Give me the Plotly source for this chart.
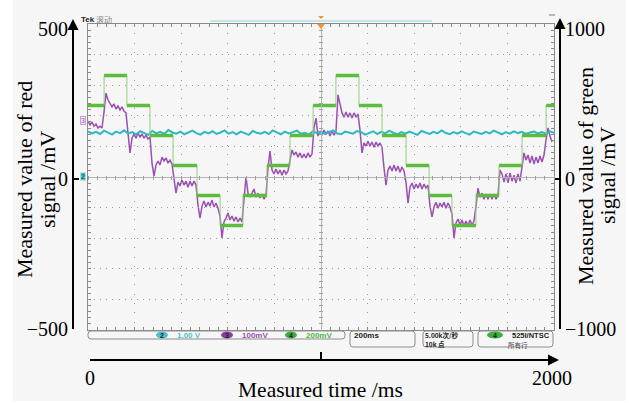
import plotly.graph_objects as go

# ---------------- data ----------------
RED_SAMPLE_MS = 2000 / 233          # one reading every 2 screen pixels
RED_MV = [
    192, 179, 189, 175, 182, 169, 175, 169,
    222, 285, 262, 249, 239, 249, 232, 242, 229, 239, 225, 219,
    155, 86, 135, 149, 135, 152, 139, 149, 135, 145, 132, 139,
    52, 9, 46, 59, 46, 72, 59, 69, 52, 62, 49,
    -4, -48, -11, -24, -4, -21, -8, -28, -8, -24, -8, -21,
    -88, -131, -91, -74, -94, -78, -91, -71, -94, -81, -98,
    -124, -197, -144, -131, -114, -137, -124, -141, -127, -144, -131, -144,
    -58, 6, -48, -61, -48, -34, -61, -48, -64, -51, -68, -54,
    36, 92, 29, 16, 32, 16, 29, 12, 29, 16, 26,
    56, 96, 79, 89, 72, 86, 69, 82, 69, 86, 72, 82,
    169, 202, 142, 159, 145, 162, 149, 159, 142, 159, 145, 159,
    279, 249, 219, 205, 222, 205, 219, 202, 219, 205, 215,
    162, 86, 119, 109, 125, 109, 122, 105, 122, 109, 119, 105,
    36, -21, 29, 42, 26, 46, 26, 42, 22, 39, 26,
    -11, -81, -28, -14, -34, -18, -31, -14, -34, -18, -31, -21,
    -91, -127, -94, -78, -98, -81, -94, -78, -98, -81, -94,
    -118, -197, -147, -134, -154, -137, -157, -141, -157, -137, -154, -141,
    -91, -31, -61, -48, -68, -51, -68, -51, -68, -51, -68, -54,
    29, 16, -11, 16, -14, 19, -8, 12, -14, 16, -8,
    46, 86, 62, 79, 52, 76, 49, 72, 52, 76, 56, 79,
    129, 169, 142, 122,
]
RED_MS = [i * RED_SAMPLE_MS for i in range(len(RED_MV))]

CYAN_SAMPLE_MS = 2000 / 116
CYAN_MV = [
    158, 151, 156, 149, 160, 153, 147, 157, 152, 161, 150, 155, 148, 158, 153, 146, 159, 151, 156, 149,
    162, 154, 150, 157, 148, 155, 160, 152, 147, 156, 151, 158, 149, 154, 161, 150, 155, 148, 157, 152,
    146, 159, 153, 150, 156, 149, 161, 154, 148, 157, 151, 155, 160, 150, 153, 147, 158, 152, 156, 149,
    154, 161, 151, 148, 157, 153, 150, 159, 155, 147, 152, 158, 149, 156, 151, 160, 153, 148, 155, 150,
    157, 152, 146, 159, 154, 149, 156, 151, 161, 153, 148, 155, 150, 158, 152, 147, 157, 154, 149, 156,
    151, 160, 153, 148, 155, 150, 158, 152, 156, 149, 154, 157, 151, 155, 150, 158, 153,
]
CYAN_MS = [i * CYAN_SAMPLE_MS for i in range(len(CYAN_MV))]

GREEN_EDGES_MS = [0, 69, 167, 266, 365, 468, 567, 665, 768, 867, 966, 1064,
                  1163, 1262, 1365, 1464, 1562, 1665, 1764, 1863, 1966, 2000]
GREEN_LEVELS_MV = [490, 690, 490, 290, 90, -110, -310, -110, 90, 290, 490,
                   690, 490, 290, 90, -110, -310, -110, 90, 290, 490]

RED_TICKS = [-500, 0, 500]
RED_TICKTEXT = ["\u2212500", "0", "500"]
GREEN_TICKS = [-1000, 0, 1000]
GREEN_TICKTEXT = ["\u22121000", "0", "1000"]
TIME_TICKS = [0, 1000, 2000]
TIME_TICKTEXT = ["0", "", "2000"]

# ---------------- styling / geometry ----------------
W, H = 634, 403
ML, MR, MT, MB = 73, 74, 15, 43
PW, PH = W - ML - MR, H - MT - MB


def px(x):
    return (x - ML) / PW


def py(y):
    return (H - MB - y) / PH


PURPLE = "#9b50b2"
GREEN = "#5cbd3c"
GREEN_THIN = "#8fd27a"
CYAN = "#2db8c3"
SERIF = "Liberation Serif, Times New Roman, serif"
SANS = "Liberation Sans, Arial, Noto Sans CJK SC, sans-serif"
CJK = "Noto Sans CJK SC, sans-serif"
GRIDC = "#9a9a9a"
FRAMEC = "#8a8a8a"

fig = go.Figure()

# green: thin verticals + thick plateaus
gx, gy = [], []
for i, lv in enumerate(GREEN_LEVELS_MV):
    gx += [GREEN_EDGES_MS[i], GREEN_EDGES_MS[i + 1], None]
    gy += [lv, lv, None]
fig.add_trace(go.Scatter(x=GREEN_EDGES_MS, y=GREEN_LEVELS_MV + [GREEN_LEVELS_MV[-1]],
                         mode="lines", line=dict(color=GREEN_THIN, width=1, shape="hv"),
                         xaxis="x", yaxis="y2", hoverinfo="skip", showlegend=False))
fig.add_trace(go.Scatter(x=gx, y=gy, mode="lines", line=dict(color=GREEN, width=3.5),
                         xaxis="x", yaxis="y2", showlegend=False))
fig.add_trace(go.Scatter(x=RED_MS, y=RED_MV, mode="lines", line=dict(color=PURPLE, width=1.5),
                         xaxis="x", yaxis="y", showlegend=False))
fig.add_trace(go.Scatter(x=CYAN_MS, y=CYAN_MV, mode="lines", line=dict(color=CYAN, width=2),
                         xaxis="x", yaxis="y", showlegend=False))
# dummies so every decorative axis is drawn
for xa, ya in [("x2", "y"), ("x3", "y3"), ("x4", "y3"), ("x3", "y4")]:
    fig.add_trace(go.Scatter(x=[None], y=[None], xaxis=xa, yaxis=ya, showlegend=False,
                             hoverinfo="skip"))

tickfont = dict(family=SERIF, size=20, color="black")
scope_x = [px(88), px(554)]
scope_y = [py(330), py(24)]

fig.update_layout(
    width=W, height=H, margin=dict(l=ML, r=MR, t=MT, b=MB, pad=0),
    paper_bgcolor="white", plot_bgcolor="rgba(0,0,0,0)", showlegend=False,
    xaxis=dict(domain=scope_x, range=[0, 2000], visible=False, anchor="y"),
    yaxis=dict(domain=[py(329), py(28.5)], range=[-500, 500], anchor="free", position=0,
               showline=True, linecolor="black", linewidth=2, ticks="inside", ticklen=5,
               tickwidth=1.5, tickcolor="black", tickvals=RED_TICKS, ticktext=RED_TICKTEXT,
               tickfont=tickfont, showgrid=False, zeroline=False, automargin=False),
    yaxis2=dict(domain=[py(329), py(29)], range=[-1000, 1000], anchor="free", position=1,
                side="right", showline=True, linecolor="black", linewidth=2, ticks="inside",
                ticklen=5, tickwidth=1.5, tickcolor="black", tickvals=GREEN_TICKS,
                ticktext=GREEN_TICKTEXT, tickfont=tickfont, showgrid=False, zeroline=False,
                automargin=False),
    xaxis2=dict(domain=[px(90), px(552)], range=[0, 2000], anchor="free", position=0,
                showline=True, linecolor="black", linewidth=2, ticks="inside", ticklen=7,
                tickwidth=1.5, tickcolor="black", tickvals=TIME_TICKS, ticktext=TIME_TICKTEXT,
                tickfont=tickfont, showgrid=False, zeroline=False, automargin=False),
    xaxis3=dict(domain=scope_x, range=[-5, 5], anchor="y3", tick0=0, dtick=1,
                showgrid=True, gridcolor=GRIDC, griddash="1px,8.3px", gridwidth=1,
                zeroline=True, zerolinecolor="#b4b4b4", zerolinewidth=1,
                showline=True, mirror="ticks", linecolor=FRAMEC, linewidth=1,
                ticks="inside", ticklen=3, tickcolor=FRAMEC, showticklabels=False,
                minor=dict(dtick=0.2, ticks="inside", ticklen=3, tickcolor=FRAMEC, showgrid=False)),
    yaxis3=dict(domain=scope_y, range=[-5, 5], anchor="x3", tick0=0, dtick=1,
                showgrid=True, gridcolor=GRIDC, griddash="1px,5.1px", gridwidth=1,
                zeroline=True, zerolinecolor="#b4b4b4", zerolinewidth=1,
                showline=True, mirror="ticks", linecolor=FRAMEC, linewidth=1,
                ticks="inside", ticklen=3, tickcolor=FRAMEC, showticklabels=False,
                minor=dict(dtick=0.2, ticks="inside", ticklen=3, tickcolor=FRAMEC, showgrid=False)),
    xaxis4=dict(domain=scope_x, range=[-5, 5], anchor="free", position=py(175), dtick=0.2,
                ticks="outside", ticklen=4, tickcolor="#a0a0a0", showticklabels=False,
                showgrid=False, zeroline=False, showline=False),
    yaxis4=dict(domain=scope_y, range=[-5, 5], anchor="free", position=px(323), dtick=0.2,
                ticks="outside", ticklen=4, tickcolor="#a0a0a0", showticklabels=False,
                showgrid=False, zeroline=False, showline=False),
)

shapes = []
# light grey page
shapes.append(dict(type="rect", xref="paper", yref="paper", x0=px(13), x1=px(626),
                   y0=py(401), y1=py(0), fillcolor="#f6f6f6", line=dict(width=0), layer="below"))


def rrect(x0, y0, x1, y1, r):
    p = lambda x, y: f"{px(x):.5f},{py(y):.5f}"
    return (f"M{p(x0 + r, y0)} L{p(x1 - r, y0)} Q{p(x1, y0)} {p(x1, y0 + r)} "
            f"L{p(x1, y1 - r)} Q{p(x1, y1)} {p(x1 - r, y1)} L{p(x0 + r, y1)} "
            f"Q{p(x0, y1)} {p(x0, y1 - r)} L{p(x0, y0 + r)} Q{p(x0, y0)} {p(x0 + r, y0)} Z")


for (a, b, c, d) in [(88, 331, 345, 339), (350, 331, 415, 347), (423, 331, 473, 347), (478, 331, 553, 347)]:
    shapes.append(dict(type="path", xref="paper", yref="paper", path=rrect(a, b, c, d, 3),
                       line=dict(color="#8c8c8c", width=1), fillcolor="rgba(0,0,0,0)"))
for (cx, col, hw) in [(162, "#4cc3cc", 6), (227, "#8b3f9e", 6), (291, "#3fae3a", 6), (495, "#3fae3a", 8)]:
    shapes.append(dict(type="circle", xref="paper", yref="paper", x0=px(cx - hw), x1=px(cx + hw),
                       y0=py(338.5), y1=py(331.5), fillcolor=col, line=dict(width=0)))
# top status line and trigger markers
shapes.append(dict(type="line", xref="paper", yref="paper", x0=px(210), x1=px(432), y0=py(21), y1=py(21),
                   line=dict(color="#8fd5dc", width=1)))
shapes.append(dict(type="path", xref="paper", yref="paper", fillcolor="#f0962d", line=dict(width=0),
                   path=f"M{px(318)},{py(16)} L{px(324)},{py(16)} L{px(321)},{py(19)} Z"))
shapes.append(dict(type="path", xref="paper", yref="paper", fillcolor="#f0962d", line=dict(width=0),
                   path=f"M{px(317)},{py(24)} L{px(325)},{py(24)} L{px(321)},{py(29)} Z"))
shapes.append(dict(type="line", xref="paper", yref="paper", x0=px(549), x1=px(555), y0=py(15), y1=py(15),
                   line=dict(color="#777", width=1)))
fig.update_layout(shapes=shapes)

ann = []


def text(x, y, s, size, color, xanchor="left", family=SANS, **kw):
    ann.append(dict(x=px(x), y=py(y), xref="paper", yref="paper", text=s, showarrow=False,
                    xanchor=xanchor, yanchor="middle", font=dict(family=family, size=size, color=color), **kw))


# axis titles
text(320, 390, "Measured time /ms", 21.5, "black", "center", SERIF)
text(24, 180, "Measured value of red", 22, "black", "center", SERIF, textangle=-90)
text(47, 180, "signal /mV", 22, "black", "center", SERIF, textangle=-90)
text(585, 176, "Measured value of green", 22, "black", "center", SERIF, textangle=-90)
text(607, 176, "signal /mV", 22, "black", "center", SERIF, textangle=-90)

# arrowheads
for (x, y, axp, ayp) in [(73, 19, 0, 14), (560, 18, 0, 14), (559, 360, -14, 0)]:
    ann.append(dict(x=px(x), y=py(y), xref="paper", yref="paper", text="", showarrow=True,
                    ax=axp, ay=ayp, arrowhead=2, arrowsize=1.1, arrowwidth=2, arrowcolor="black"))

# scope overlays
text(79, 19, "<b>Tek</b>", 8, "#222")
text(94, 19, "滚动", 8, "#888", family=CJK)
text(83, 121, "3", 7, PURPLE, "center", bordercolor="#c9a0d6", borderwidth=1, bgcolor="#f3eaf5", borderpad=0)
text(83, 177, "<b>2</b>", 7, "#1d5f66", "center", bgcolor="#5cc6cf", borderpad=0)
text(162, 335.5, "<b>2</b>", 7, "#123", "center")
text(227, 335.5, "<b>3</b>", 7, "#123", "center")
text(291, 335.5, "<b>4</b>", 7, "#123", "center")
text(495, 335.5, "<b>4</b>", 7, "#123", "center")
text(175, 335.5, "<b>1.00 V</b>", 8, "#4cc3cc")
text(240, 335.5, "<b>100mV</b>", 8, "#9a4fae")
text(304, 335.5, "<b>200mV</b>", 8, "#4fb33f")
text(352, 335.5, "<b>200ms</b>", 8, "#222")
text(424, 334.5, "<b>5.00k次/秒</b>", 6.5, "#222", family=CJK, borderpad=0)
text(424, 344, "<b>10k 点</b>", 6.5, "#222", family=CJK, borderpad=0)
text(551, 335, "<b>525I/NTSC</b>", 7.5, "#222", "right", borderpad=0)
text(507, 344.5, "所有行", 6.5, "#444", family=CJK, borderpad=0)
fig.update_layout(annotations=ann)

fig.write_html("out.html", config={"displayModeBar": False},
               post_script="document.body.style.margin='0px';")
